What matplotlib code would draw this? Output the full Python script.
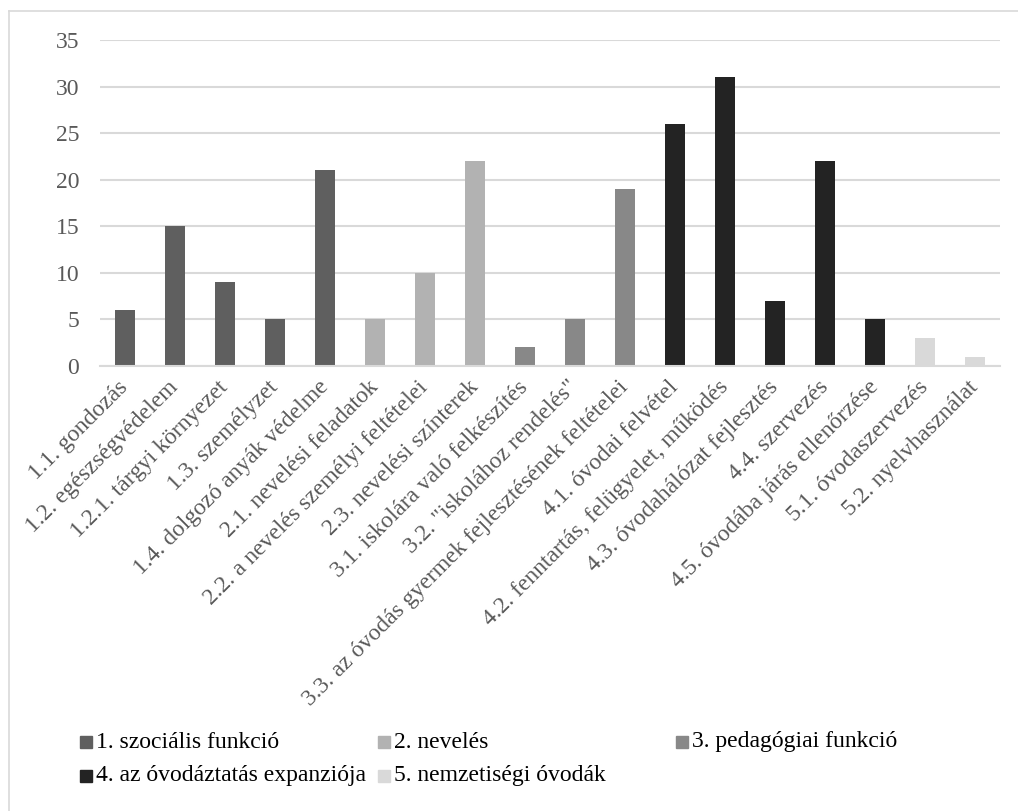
import matplotlib
matplotlib.use("Agg")
import matplotlib.pyplot as plt
from matplotlib.lines import Line2D
from matplotlib.patches import Rectangle

plt.rcParams['font.family'] = ['Liberation Serif', 'DejaVu Serif']

categories = [
    "1.1. gondozás", "1.2. egészségvédelem", "1.2.1. tárgyi környezet",
    "1.3. személyzet", "1.4. dolgozó anyák védelme", "2.1. nevelési feladatok",
    "2.2. a nevelés személyi feltételei", "2.3. nevelési színterek",
    "3.1. iskolára való felkészítés", "3.2. \"iskolához rendelés\"",
    "3.3. az óvodás gyermek fejlesztésének feltételei", "4.1. óvodai felvétel",
    "4.2. fenntartás, felügyelet, működés", "4.3. óvodahálózat fejlesztés",
    "4.4. szervezés", "4.5. óvodába járás ellenőrzése",
    "5.1. óvodaszervezés", "5.2. nyelvhasználat",
]
values = [6, 15, 9, 5, 21, 5, 10, 22, 2, 5, 19, 26, 31, 7, 22, 5, 3, 1]
groups = [0, 0, 0, 0, 0, 1, 1, 1, 2, 2, 2, 3, 3, 3, 3, 3, 4, 4]
group_names = [
    "1. szociális funkció", "2. nevelés", "3. pedagógiai funkció",
    "4. az óvodáztatás expanziója", "5. nemzetiségi óvodák",
]
group_colors = ["#5f5f5f", "#b2b2b2", "#888888", "#232323", "#d9d9d9"]
yticks = [0, 5, 10, 15, 20, 25, 30, 35]

W, H = 1018, 811
FS = 17
fig = plt.figure(figsize=(W / 100, H / 100), dpi=100)

# chart frame (left and top edges fall inside the canvas)
frame_kw = dict(transform=fig.transFigure, color="#d9d9d9", linewidth=1.2)
fig.add_artist(Line2D([9 / W, 9 / W], [0, 1 - 11 / H], **frame_kw))
fig.add_artist(Line2D([9 / W, 1], [1 - 11 / H, 1 - 11 / H], **frame_kw))

ax = fig.add_axes([100 / W, 1 - 366 / H, 900 / W, (366 - 40) / H])
x = list(range(len(categories)))
ax.bar(x, values, width=0.4, color=[group_colors[g] for g in groups], zorder=3)

ax.set_xlim(-0.5, len(categories) - 0.5)
ax.set_ylim(0, 35)
ax.set_yticks(yticks)
ax.yaxis.grid(True, color="#d9d9d9", linewidth=1.5, zorder=0)
for s in ["top", "right", "left"]:
    ax.spines[s].set_visible(False)
ax.spines["bottom"].set_color("#d9d9d9")
ax.spines["bottom"].set_linewidth(1.5)
ax.spines["bottom"].set_zorder(4)
ax.tick_params(axis="both", length=0, labelsize=FS, labelcolor="#595959")
ax.tick_params(axis="y", pad=15)
ax.set_xticks(x)
ax.set_xticklabels(categories, rotation=45, ha="right", va="center",
                   rotation_mode="anchor")
ax.tick_params(axis="x", pad=13)

# legend laid out in two rows of three columns
col_x = [86, 384, 682]
row_y = [742, 776]
for i, (name, col) in enumerate(zip(group_names, group_colors)):
    px, py = col_x[i % 3], row_y[i // 3]
    fig.patches.append(Rectangle(((px - 6) / W, 1 - (py + 6) / H), 12 / W, 12 / H,
                                 transform=fig.transFigure, color=col))
    fig.text((px + 10) / W, 1 - py / H, name, fontsize=FS, color="#000000",
             va="center", ha="left")

fig.savefig("out.png", dpi=100)
